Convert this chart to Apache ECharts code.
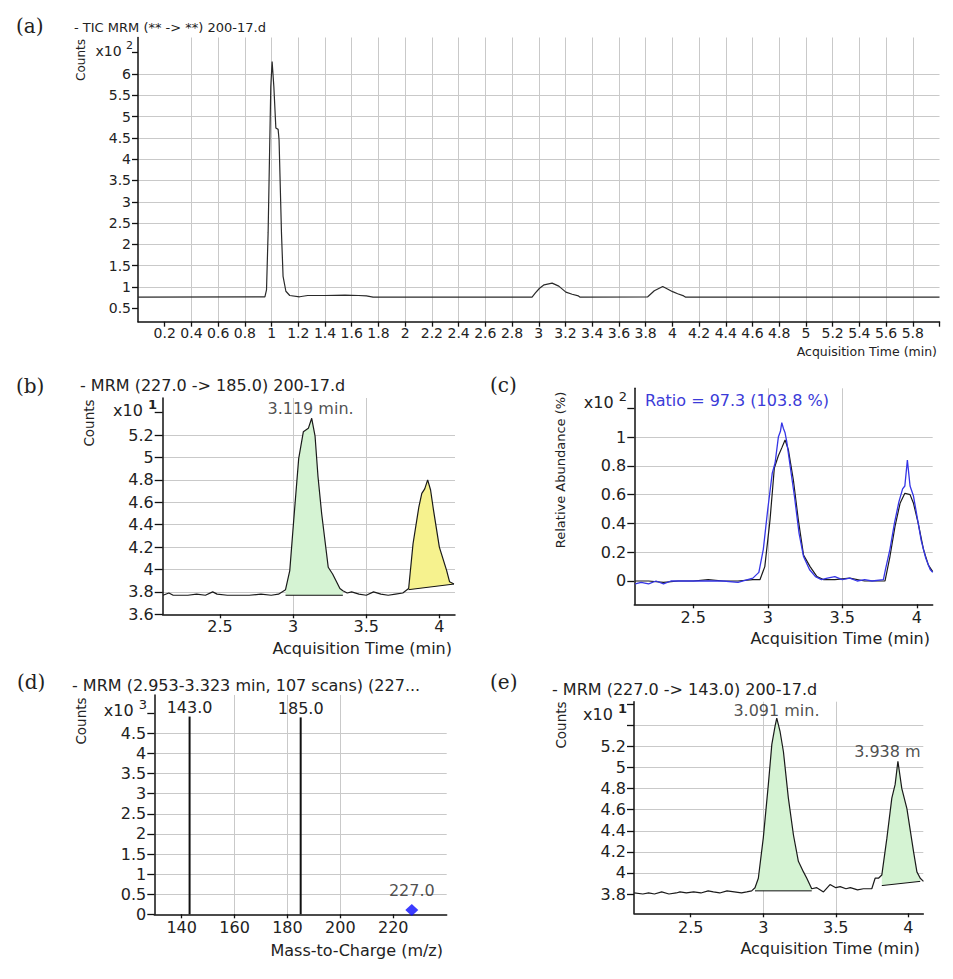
<!DOCTYPE html>
<html><head><meta charset="utf-8">
<script src="https://cdn.jsdelivr.net/npm/echarts@6/dist/echarts.min.js"></script>
<style>html,body{margin:0;padding:0;background:#fff}#c{width:953px;height:979px}</style>
</head><body><div id="c"></div>
<script>
// ---------------- DATA ----------------
// (a) TIC MRM, counts x10^2 vs acquisition time (min)
const aTime   = [0, 0.95, 0.962, 0.974, 0.994, 1.004, 1.017, 1.032, 1.049, 1.056, 1.074, 1.086, 1.107, 1.136, 1.21, 1.27, 1.4, 1.55, 1.65, 1.71, 1.76, 2.95, 2.975, 3.006, 3.04, 3.10, 3.15, 3.203, 3.25, 3.297, 3.31, 3.816, 3.865, 3.928, 3.96, 4.002, 4.04, 4.085, 4.1, 6];
const aCounts = [0.76, 0.77, 0.93, 2.27, 5.7, 6.29, 5.7, 4.73, 4.70, 4.45, 2.27, 1.25, 0.90, 0.80, 0.77, 0.80, 0.80, 0.81, 0.80, 0.79, 0.76, 0.76, 0.86, 0.97, 1.05, 1.09, 1.02, 0.88, 0.83, 0.79, 0.76, 0.77, 0.91, 1.01, 0.96, 0.89, 0.84, 0.79, 0.76, 0.76];
const aXLabels = [0.2,0.4,0.6,0.8,1,1.2,1.4,1.6,1.8,2,2.2,2.4,2.6,2.8,3,3.2,3.4,3.6,3.8,4,4.2,4.4,4.6,4.8,5,5.2,5.4,5.6,5.8];
const aYLabels = [0.5,1,1.5,2,2.5,3,3.5,4,4.5,5,5.5,6];
const aYTicks  = [0.5,1,1.5,2,2.5,3,3.5,4,4.5,5,5.5,6,6.5];

// (b) MRM 227.0 -> 185.0, counts x10^1
const bTime   = [2.11, 2.15, 2.18, 2.22, 2.28, 2.34, 2.4, 2.45, 2.48, 2.55, 2.62, 2.7, 2.78, 2.85, 2.9, 2.948, 2.977, 3.004, 3.038, 3.07, 3.104, 3.127, 3.15, 3.17, 3.195, 3.24, 3.27, 3.32, 3.34, 3.37, 3.4, 3.45, 3.5, 3.55, 3.6, 3.65, 3.7, 3.75, 3.79, 3.82, 3.86, 3.88, 3.9, 3.92, 3.94, 3.96, 4.0, 4.05, 4.07, 4.1];
const bCounts = [3.77, 3.79, 3.77, 3.77, 3.77, 3.78, 3.77, 3.80, 3.78, 3.77, 3.77, 3.77, 3.78, 3.77, 3.78, 3.82, 3.99, 4.44, 4.99, 5.23, 5.26, 5.35, 5.19, 4.83, 4.50, 4.02, 3.96, 3.83, 3.81, 3.79, 3.80, 3.78, 3.77, 3.80, 3.78, 3.77, 3.78, 3.79, 3.83, 4.23, 4.56, 4.68, 4.72, 4.80, 4.71, 4.53, 4.20, 3.99, 3.89, 3.87];
const bPeakTime = 3.119;
const bRegionGreen  = {t0: 2.948, t1: 3.34, b0: 3.77, b1: 3.77};
const bRegionYellow = {t0: 3.79,  t1: 4.1,  b0: 3.82, b1: 3.87};
const timeLabels = [2.5, 3, 3.5, 4];
const bYLabels = [3.6,3.8,4,4.2,4.4,4.6,4.8,5,5.2];
const bYTicks  = [3.6,3.8,4,4.2,4.4,4.6,4.8,5,5.2,5.4];

// (c) relative abundance x10^2 (%)
const cTime  = [2.11, 2.2, 2.3, 2.4, 2.5, 2.6, 2.7, 2.8, 2.9, 2.948, 2.98, 3.015, 3.044, 3.071, 3.094, 3.116, 3.138, 3.172, 3.205, 3.24, 3.284, 3.33, 3.373, 3.45, 3.55, 3.65, 3.75, 3.787, 3.82, 3.854, 3.888, 3.92, 3.955, 3.978, 4.01, 4.045, 4.078, 4.107];
const cBlack = [0.0, 0.0, -0.01, 0.0, 0.0, 0.01, 0.0, 0.0, 0.01, 0.01, 0.1, 0.425, 0.785, 0.87, 0.925, 0.98, 0.913, 0.70, 0.425, 0.18, 0.10, 0.03, 0.01, 0.01, 0.02, 0.0, 0.0, 0.0, 0.17, 0.38, 0.54, 0.61, 0.60, 0.54, 0.40, 0.22, 0.11, 0.065];
const cBlueTime = [2.11, 2.15, 2.2, 2.25, 2.3, 2.35, 2.4, 2.5, 2.6, 2.7, 2.8, 2.9, 2.94, 2.97, 3.0, 3.03, 3.049, 3.071, 3.085, 3.094, 3.105, 3.116, 3.127, 3.15, 3.18, 3.21, 3.24, 3.28, 3.32, 3.36, 3.4, 3.45, 3.5, 3.55, 3.6, 3.65, 3.7, 3.776, 3.79, 3.82, 3.85, 3.88, 3.905, 3.92, 3.937, 3.955, 3.978, 4.0, 4.03, 4.06, 4.09, 4.107];
const cBlue  = [-0.02, -0.01, -0.02, 0.0, -0.02, 0.0, 0.0, 0.0, 0.0, 0.0, -0.01, 0.02, 0.06, 0.22, 0.5, 0.75, 0.82, 1.0, 1.04, 1.10, 1.06, 1.03, 0.97, 0.80, 0.58, 0.33, 0.17, 0.08, 0.03, 0.01, 0.02, 0.03, 0.01, 0.02, 0.0, 0.01, 0.0, 0.01, 0.08, 0.22, 0.40, 0.55, 0.64, 0.66, 0.84, 0.66, 0.59, 0.46, 0.28, 0.16, 0.08, 0.06];
const cYLabels = [0,0.2,0.4,0.6,0.8,1];
const cYTicks  = [0,0.2,0.4,0.6,0.8,1,1.2];

// (d) product ion spectrum, counts x10^3 vs m/z
const dMz = [143.0, 185.0];
const dCounts = [4.92, 4.90];
const dPrecMz = [227.0];
const dPrecCounts = [0.11];
const dXLabels = [140,160,180,200,220];
const dYLabels = [0,0.5,1,1.5,2,2.5,3,3.5,4,4.5];
const dYTicks  = [0,0.5,1,1.5,2,2.5,3,3.5,4,4.5,5];

// (e) MRM 227.0 -> 143.0, counts x10^1
const eTime   = [2.11, 2.17, 2.21, 2.25, 2.3, 2.35, 2.4, 2.426, 2.47, 2.52, 2.57, 2.62, 2.656, 2.7, 2.75, 2.8, 2.85, 2.886, 2.92, 2.943, 2.966, 3.0, 3.035, 3.059, 3.081, 3.093, 3.116, 3.139, 3.173, 3.208, 3.242, 3.277, 3.30, 3.334, 3.369, 3.415, 3.46, 3.5, 3.53, 3.57, 3.6, 3.65, 3.69, 3.748, 3.771, 3.794, 3.817, 3.852, 3.886, 3.909, 3.928, 3.955, 3.99, 4.036, 4.059, 4.082, 4.104];
const eCounts = [3.81, 3.80, 3.81, 3.80, 3.82, 3.80, 3.81, 3.82, 3.81, 3.82, 3.81, 3.83, 3.82, 3.81, 3.83, 3.82, 3.81, 3.82, 3.83, 3.86, 3.95, 4.33, 4.84, 5.22, 5.39, 5.47, 5.34, 5.15, 4.71, 4.36, 4.11, 4.01, 3.95, 3.85, 3.86, 3.82, 3.89, 3.86, 3.87, 3.85, 3.86, 3.84, 3.85, 3.85, 3.95, 3.95, 3.98, 4.33, 4.71, 4.84, 5.06, 4.80, 4.61, 4.20, 4.01, 3.95, 3.92];
const ePeak1Time = 3.091, ePeak2Time = 3.938;
const eRegion1 = {t0: 2.943, t1: 3.334, b0: 3.83, b1: 3.83};
const eRegion2 = {t0: 3.817, t1: 4.082, b0: 3.88, b1: 3.92};
const eYLabels = [3.8,4,4.2,4.4,4.6,4.8,5,5.2];
const eYTicks  = [3.8,4,4.2,4.4,4.6,4.8,5,5.2,5.4,5.6];

// axis multiplier exponents (x10^n) per panel
const exponents = ['2', '1', '2', '3', '1'];

// ---------------- HELPERS ----------------
const FONT = 'DejaVu Sans';
const SERIF = 'DejaVu Serif';
const AX = '#111', TXT = '#222', GRIDC = '#c9c9c9';
const near = (a, b) => Math.abs(a - b) < 1e-6;
const fmtNum = v => String(Math.round(v * 1000) / 1000);
const pairs = (t, v) => t.map((x, i) => [x, v[i]]);

function yAxisCfg(o) {
  return {
    type: 'value', gridIndex: o.grid, min: o.min, max: o.max,
    minInterval: o.step, maxInterval: o.step, splitNumber: Math.max(1, Math.round((o.max - o.min) / o.step)),
    axisLine: {show: true, onZero: false, lineStyle: {color: AX, width: 1.5}},
    axisTick: {show: true, length: o.tickLen, customValues: o.ticks, lineStyle: {color: AX, width: 1.3}},
    axisLabel: {
      show: true, customValues: o.labels, showMinLabel: true, showMaxLabel: true, hideOverlap: false,
      margin: o.margin, color: TXT, fontFamily: FONT, fontSize: o.fs,
      formatter: v => (o.labels.some(l => near(l, v)) ? fmtNum(v) : '')
    },
    splitLine: {show: true, showMinLine: false, showMaxLine: false, lineStyle: {color: GRIDC, width: 1}}
  };
}
function xAxisCfg(o) {
  return {
    type: 'value', gridIndex: o.grid, min: o.min, max: o.max,
    minInterval: o.step, maxInterval: o.step, splitNumber: Math.max(1, Math.round((o.max - o.min) / o.step)),
    axisLine: {show: true, onZero: false, lineStyle: {color: AX, width: 1.5}},
    axisTick: {show: true, length: o.tickLen, customValues: o.ticks || o.labels, lineStyle: {color: AX, width: 1.3}},
    axisLabel: {
      show: true, customValues: o.labels, showMinLabel: true, showMaxLabel: true, hideOverlap: false,
      margin: o.margin, color: TXT, fontFamily: FONT, fontSize: o.fs,
      formatter: v => (o.labels.some(l => near(l, v)) ? fmtNum(v) : '')
    },
    splitLine: {show: true, showMinLine: false, showMaxLine: false, lineStyle: {color: GRIDC, width: 1}}
  };
}
function lineSeries(ax, data, color, width, z) {
  return {type: 'line', xAxisIndex: ax, yAxisIndex: ax, data: data, symbol: 'none', showSymbol: false,
    lineStyle: {color: color, width: width}, itemStyle: {color: color}, z: z || 3, animation: false, silent: true};
}
function fillSeries(ax, times, vals, r, color) {
  return {
    type: 'custom', xAxisIndex: ax, yAxisIndex: ax, silent: true, z: 1, animation: false,
    data: [[r.t0, r.b0]], encode: {x: 0, y: 1},
    renderItem: (params, api) => {
      const pts = [];
      times.forEach((t, i) => { if (t >= r.t0 - 1e-9 && t <= r.t1 + 1e-9) pts.push(api.coord([t, vals[i]])); });
      pts.push(api.coord([r.t1, r.b1]));
      pts.push(api.coord([r.t0, r.b0]));
      return {type: 'polygon', shape: {points: pts}, style: {fill: color, stroke: null}};
    }
  };
}
function baseSeries(ax, r) {
  return lineSeries(ax, [[r.t0, r.b0], [r.t1, r.b1]], '#111', 1, 2);
}
function peakLabel(ax, t, y, text, fs, offset) {
  return {type: 'scatter', xAxisIndex: ax, yAxisIndex: ax, data: [[t, y]], symbol: 'circle', symbolSize: 1,
    itemStyle: {color: 'rgba(0,0,0,0)'}, silent: true, animation: false, z: 5,
    label: {show: true, position: 'inside', offset: offset || [0, 0], formatter: text, fontFamily: FONT, fontSize: fs, color: TXT}};
}

// ---------------- CHART ----------------
const chart = echarts.init(document.getElementById('c'), null, {renderer: 'svg'});

const grids = [
  {left: 138,   top: 37.5,  width: 801.5, height: 284.2},
  {left: 162.7, top: 398,   width: 292.3, height: 216.3},
  {left: 634.3, top: 388.3, width: 298.4, height: 216},
  {left: 154.3, top: 695,   width: 292.4, height: 219.3},
  {left: 634,   top: 701.7, width: 289.3, height: 211.6}
].map(g => Object.assign({outerBoundsMode: 'none', containLabel: false, show: false}, g));

const aXTicks = aXLabels.concat([6]);
const xAxes = [
  xAxisCfg({grid: 0, min: 0, max: 6, step: 0.2, labels: aXLabels, ticks: aXTicks, fs: 14, margin: 4, tickLen: 5}),
  xAxisCfg({grid: 1, min: 2.108, max: 4.107, step: 0.5, labels: timeLabels, fs: 16, margin: 4, tickLen: 4}),
  xAxisCfg({grid: 2, min: 2.104, max: 4.107, step: 0.5, labels: timeLabels, fs: 16, margin: 5, tickLen: 4}),
  xAxisCfg({grid: 3, min: 129.66, max: 240.2, step: 20, labels: dXLabels, fs: 16, margin: 5, tickLen: 4}),
  xAxisCfg({grid: 4, min: 2.109, max: 4.103, step: 0.5, labels: timeLabels, fs: 16, margin: 6, tickLen: 4})
];
const yAxes = [
  yAxisCfg({grid: 0, min: 0.185, max: 6.857, step: 0.5, labels: aYLabels, ticks: aYTicks, fs: 14, tickLen: 6, margin: 7}),
  yAxisCfg({grid: 1, min: 3.6, max: 5.531, step: 0.2, labels: bYLabels, ticks: bYTicks, fs: 16, tickLen: 8, margin: 9}),
  yAxisCfg({grid: 2, min: -0.162, max: 1.339, step: 0.2, labels: cYLabels, ticks: cYTicks, fs: 16, tickLen: 7, margin: 8}),
  yAxisCfg({grid: 3, min: 0, max: 5.457, step: 0.5, labels: dYLabels, ticks: dYTicks, fs: 16, tickLen: 7, margin: 8}),
  yAxisCfg({grid: 4, min: 3.617, max: 5.625, step: 0.2, labels: eYLabels, ticks: eYTicks, fs: 16, tickLen: 7, margin: 8})
];

const GREEN = '#d5f3d3', YELLOW = '#f6f28e';
const series = [
  // (a)
  lineSeries(0, pairs(aTime, aCounts), '#2a2a2a', 1.2),
  // (b)
  fillSeries(1, bTime, bCounts, bRegionGreen, GREEN),
  fillSeries(1, bTime, bCounts, bRegionYellow, YELLOW),
  baseSeries(1, bRegionGreen),
  baseSeries(1, bRegionYellow),
  lineSeries(1, pairs(bTime, bCounts), '#1a1a1a', 1.2),
  peakLabel(1, bPeakTime, 5.44, bPeakTime.toFixed(3) + ' min.', 16),
  // (c)
  lineSeries(2, pairs(cTime, cBlack), '#1a1a1a', 1.2),
  lineSeries(2, pairs(cBlueTime, cBlue), '#3535e6', 1.3, 4),
  // (d)
  {type: 'bar', xAxisIndex: 3, yAxisIndex: 3, data: pairs(dMz, dCounts), barWidth: 2, animation: false, silent: true,
    itemStyle: {color: '#111'},
    label: {show: true, position: 'top', distance: 1, formatter: p => p.value[0].toFixed(1), fontFamily: FONT, fontSize: 16, color: TXT}},
  {type: 'scatter', xAxisIndex: 3, yAxisIndex: 3, data: pairs(dPrecMz, dPrecCounts), symbol: 'diamond', symbolSize: [13, 12],
    animation: false, silent: true, itemStyle: {color: '#0a0aff'}, z: 5,
    label: {show: true, position: 'top', distance: 5, formatter: p => p.value[0].toFixed(1), fontFamily: FONT, fontSize: 16, color: TXT}},
  // (e)
  fillSeries(4, eTime, eCounts, eRegion1, GREEN),
  fillSeries(4, eTime, eCounts, eRegion2, GREEN),
  baseSeries(4, eRegion1),
  baseSeries(4, eRegion2),
  lineSeries(4, pairs(eTime, eCounts), '#1a1a1a', 1.2),
  peakLabel(4, ePeak1Time, 5.546, ePeak1Time.toFixed(3) + ' min.', 16),
  peakLabel(4, ePeak2Time, 5.157, ePeak2Time.toFixed(3) + ' m', 16, [-12, 0])
];

function txt(text, x, y, o) {
  o = o || {};
  return {type: 'text', x: x, y: y, rotation: o.rot || 0, silent: true, z: 10,
    style: {text: text, fontFamily: o.family || FONT, fontSize: o.fs || 16, fill: o.color || TXT,
      align: o.align || 'left', verticalAlign: 'middle'}};
}
function expText(exp, xRight, y, fs, supFs, bold) {
  return {type: 'text', x: xRight, y: y, silent: true, z: 10,
    style: {text: '{m|x10 }{s|' + exp + '}', align: 'right', verticalAlign: 'middle',
      rich: {
        m: {fontFamily: FONT, fontSize: fs, fill: TXT, lineHeight: fs + 4, verticalAlign: 'bottom'},
        s: {fontFamily: FONT, fontSize: supFs, fill: TXT, fontWeight: bold ? 'bold' : 'normal', lineHeight: fs + 4, verticalAlign: 'top'}
      }}};
}
const graphics = [
  // panel letters
  txt('(a)', 16, 26, {family: SERIF, fs: 20}),
  txt('(b)', 16, 386, {family: SERIF, fs: 20}),
  txt('(c)', 490, 385, {family: SERIF, fs: 20}),
  txt('(d)', 17, 682, {family: SERIF, fs: 20}),
  txt('(e)', 490, 682, {family: SERIF, fs: 20}),
  // titles
  txt('- TIC MRM (** -> **) 200-17.d', 74, 27, {fs: 13}),
  txt('- MRM (227.0 -> 185.0) 200-17.d', 80, 385, {fs: 16}),
  txt('Ratio = 97.3 (103.8 %)', 645, 400, {fs: 16, color: '#3b3bd8'}),
  txt('- MRM (2.953-3.323 min, 107 scans) (227...', 72, 685, {fs: 16}),
  txt('- MRM (227.0 -> 143.0) 200-17.d', 552, 689, {fs: 16}),
  // axis multipliers
  expText(exponents[0], 133, 49, 14, 11, false),
  expText(exponents[1], 157, 408, 16, 13, true),
  expText(exponents[2], 627, 400, 16, 13, false),
  expText(exponents[3], 147, 708, 16, 13, false),
  expText(exponents[4], 627, 712, 16, 13, true),
  // y axis names
  txt('Counts', 81, 60, {fs: 12, rot: Math.PI / 2, align: 'center'}),
  txt('Counts', 89, 423, {fs: 13.5, rot: Math.PI / 2, align: 'center'}),
  txt('Relative Abundance (%)', 560, 470, {fs: 13, rot: Math.PI / 2, align: 'center'}),
  txt('Counts', 81, 721, {fs: 13.5, rot: Math.PI / 2, align: 'center'}),
  txt('Counts', 561, 725, {fs: 13.5, rot: Math.PI / 2, align: 'center'}),
  // x axis names
  txt('Acquisition Time (min)', 937, 351, {fs: 12.5, align: 'right'}),
  txt('Acquisition Time (min)', 452, 648, {fs: 16, align: 'right'}),
  txt('Acquisition Time (min)', 930, 638, {fs: 16, align: 'right'}),
  txt('Mass-to-Charge (m/z)', 443, 950, {fs: 16, align: 'right'}),
  txt('Acquisition Time (min)', 920, 948, {fs: 16, align: 'right'})
];

chart.setOption({
  backgroundColor: '#ffffff',
  animation: false,
  grid: grids,
  xAxis: xAxes,
  yAxis: yAxes,
  series: series,
  graphic: graphics
});
</script>
</body></html>
